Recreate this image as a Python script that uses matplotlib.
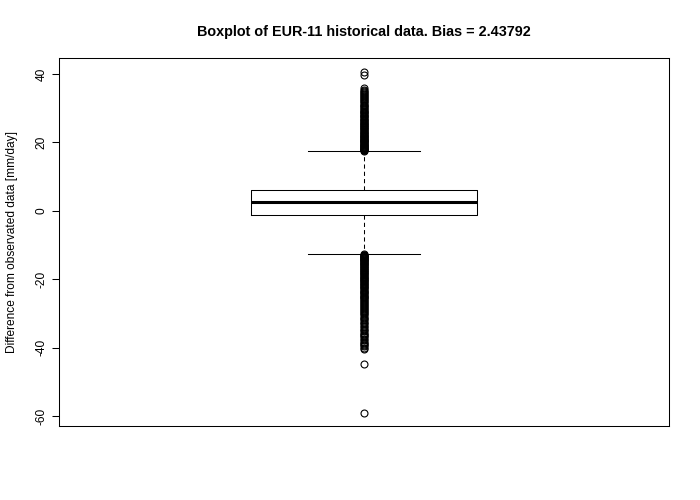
import matplotlib
matplotlib.use("Agg")
import matplotlib.pyplot as plt

plt.rcParams['font.family'] = ['Liberation Sans', 'DejaVu Sans']

# box stats (mm/day)
q1 = -1.2
med = 2.6
q3 = 6.1
whislo = -12.6
whishi = 17.5

upper_out = [17.6, 17.7, 17.8, 17.9, 18.0, 18.2, 18.3, 18.5, 18.6, 18.8, 18.9, 19.1,
             19.2, 19.4, 19.5, 19.7, 19.8, 20.0, 20.1, 20.3, 20.4, 20.6, 20.8, 20.9,
             21.1, 21.3, 21.5, 21.6, 21.8, 22.0, 22.2, 22.4, 22.6, 22.8, 23.0, 23.2,
             23.4, 23.6, 23.8, 24.0, 24.2, 24.4, 24.6, 24.8, 25.0, 25.2, 25.4, 25.6,
             25.8, 26.0, 26.2, 26.5, 26.7, 26.9, 27.1, 27.4, 27.6, 27.8, 28.0, 28.3,
             28.5, 28.8, 29.0, 29.3, 29.5, 29.8, 30.0, 30.3, 30.6, 30.9, 31.1, 31.4,
             31.7, 32.0, 32.3, 32.6, 32.9, 33.2, 33.5, 33.8, 34.1, 34.5, 34.8, 35.1,
             35.4, 35.9, 39.8, 40.6]
lower_out = [-12.7, -12.8, -12.9, -13.1, -13.2, -13.4, -13.5, -13.7, -13.8, -14.0,
             -14.1, -14.3, -14.4, -14.6, -14.8, -14.9, -15.1, -15.3, -15.5, -15.6,
             -15.8, -16.0, -16.2, -16.4, -16.6, -16.8, -17.0, -17.2, -17.4, -17.6,
             -17.8, -18.0, -18.2, -18.4, -18.6, -18.8, -19.0, -19.2, -19.4, -19.6,
             -19.8, -20.0, -20.2, -20.4, -20.6, -20.8, -21.0, -21.3, -21.5, -21.7,
             -21.9, -22.2, -22.4, -22.6, -22.8, -23.1, -23.3, -23.6, -23.8, -24.1,
             -24.3, -24.6, -24.8, -25.1, -25.3, -25.6, -25.8, -26.1, -26.3, -26.6,
             -26.9, -27.2, -27.4, -27.7, -28.0, -28.3, -28.6, -28.9, -29.2, -29.5,
             -29.8, -30.2, -30.5, -30.9, -31.2, -31.6, -32.0, -32.4, -32.8, -33.2,
             -33.6, -34.0, -34.4, -34.8, -35.2, -35.6, -35.9, -36.3, -36.6, -37.0,
             -37.4, -37.8, -38.2, -38.6, -38.9, -39.3, -39.6, -40.0, -40.4, -44.7,
             -59.0]

yticks = [-60, -40, -20, 0, 20, 40]
title = "Boxplot of EUR-11 historical data. Bias = 2.43792"
ylab = "Difference from observated data [mm/day]"

fig = plt.figure(figsize=(7, 5), dpi=100)
ax = fig.add_axes([59/700, 74/500, 610/700, 368/500])

stats = [dict(med=med, q1=q1, q3=q3, whislo=whislo, whishi=whishi,
              fliers=upper_out + lower_out)]
lw = 0.75
ax.bxp(stats, positions=[1], widths=0.4, showfliers=True,
       boxprops=dict(color='black', linewidth=lw),
       medianprops=dict(color='black', linewidth=2.2),
       whiskerprops=dict(color='black', linewidth=lw, linestyle=(0, (4, 3))),
       capprops=dict(color='black', linewidth=lw),
       capwidths=0.2,
       flierprops=dict(marker='o', markerfacecolor='none', markeredgecolor='black',
                       markersize=5, markeredgewidth=0.8))

ax.set_xlim(0.46, 1.54)
ax.set_ylim(-62.9, 44.7)
ax.set_xticks([])
ax.set_yticks(yticks)
ax.set_yticklabels([str(t) for t in yticks], rotation=90, va='center', fontsize=8.6)
ax.tick_params(axis='y', length=5, width=0.75, pad=3)
for s in ax.spines.values():
    s.set_linewidth(0.75)
ax.set_ylabel(ylab, fontsize=8.6, labelpad=13)
ax.set_title(title, fontsize=10.4, fontweight='bold', pad=16)

fig.savefig("out.png", dpi=100)
